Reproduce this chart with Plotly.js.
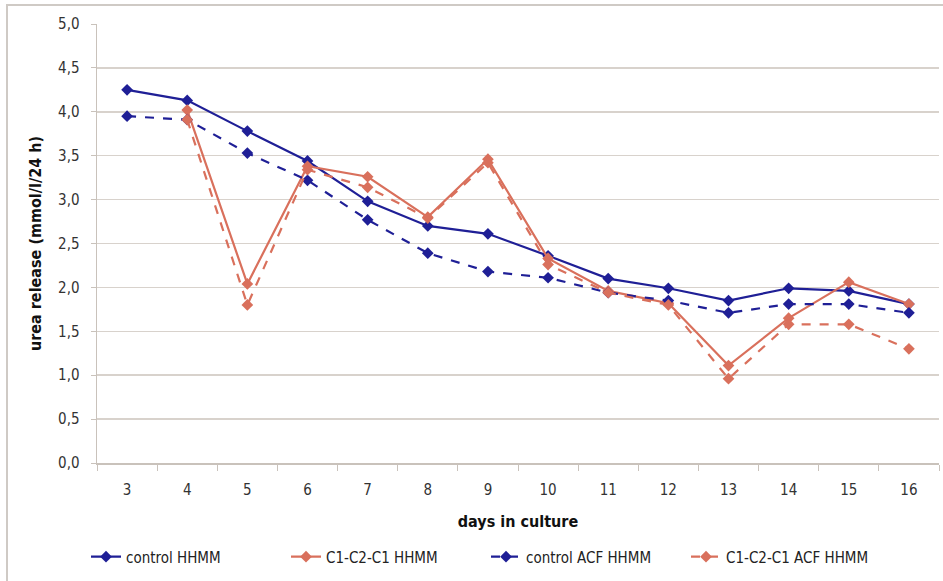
<!DOCTYPE html>
<html>
<head>
<meta charset="utf-8">
<script src="https://cdn.plot.ly/plotly-3.0.1.min.js"></script>
<style>html,body{margin:0;padding:0;background:#fff;} #chart{width:943px;height:581px;}</style>
</head>
<body>
<div id="chart"></div>
<script>
const days = ["3","4","5","6","7","8","9","10","11","12","13","14","15","16"];
const controlHHMM = [4.25, 4.13, 3.78, 3.44, 2.98, 2.70, 2.61, 2.36, 2.10, 1.99, 1.85, 1.99, 1.96, 1.81];
const c1c2c1HHMM = [null, 4.02, 2.04, 3.38, 3.26, 2.80, 3.46, 2.33, 1.96, 1.82, 1.11, 1.65, 2.06, 1.81];
const controlACF = [3.95, 3.91, 3.53, 3.22, 2.77, 2.39, 2.18, 2.11, 1.94, 1.85, 1.71, 1.81, 1.81, 1.71];
const c1c2c1ACF = [null, 3.91, 1.80, 3.34, 3.14, 2.79, 3.42, 2.26, 1.94, 1.80, 0.96, 1.58, 1.58, 1.30];
const seriesNames = ["control HHMM", "C1-C2-C1 HHMM", "control ACF HHMM", "C1-C2-C1 ACF HHMM"];
const yTickVals = [0,0.5,1,1.5,2,2.5,3,3.5,4,4.5,5];
const yTickText = ["0,0","0,5","1,0","1,5","2,0","2,5","3,0","3,5","4,0","4,5","5,0"];

const blue = "#1f1f96";
const orange = "#d9705c";
function tr(y, name, color, dash) {
  return {
    x: days, y: y, name: name, type: "scatter", mode: "lines+markers",
    line: {color: color, width: 2.2, dash: dash},
    marker: {symbol: "diamond", size: 9, color: color},
    connectgaps: false
  };
}
const data = [
  tr(controlHHMM, seriesNames[0], blue, "solid"),
  tr(c1c2c1HHMM, seriesNames[1], orange, "solid"),
  tr(controlACF, seriesNames[2], blue, "dash"),
  tr(c1c2c1ACF, seriesNames[3], orange, "dash")
];
const fam = "DejaVu Sans Condensed, DejaVu Sans, sans-serif";
const tickFont = {family: fam, size: 15, color: "#333"};
const layout = {
  width: 943, height: 581,
  margin: {l: 97, r: 4, t: 24, b: 118, autoexpand: false},
  paper_bgcolor: "#fff", plot_bgcolor: "#fff",
  showlegend: true,
  legend: {orientation: "h", x: 0.462, xanchor: "center", y: -0.214, yanchor: "middle",
           font: {family: fam, size: 15, color: "#222"},
           itemwidth: 30, tracegroupgap: 0, entrywidth: 155, entrywidthmode: "pixels"},
  xaxis: {
    type: "category", categoryorder: "array", categoryarray: days,
    range: [-0.5, 13.5],
    showgrid: false, zeroline: false,
    showline: true, linecolor: "#c9c2bb", linewidth: 1.5,
    ticks: "outside", tickson: "boundaries", ticklen: 6, tickcolor: "#c9c2bb",
    ticklabelstandoff: 12,
    tickfont: tickFont,
    title: {text: "<b>days in culture</b>", font: {family: fam, size: 16, color: "#111"}, standoff: 18}
  },
  yaxis: {
    range: [0, 5], tickvals: yTickVals, ticktext: yTickText,
    showgrid: true, gridcolor: "#d8d2cc", gridwidth: 1.5,
    zeroline: false,
    showline: true, linecolor: "#c9c2bb", linewidth: 1.5,
    ticks: "outside", ticklen: 5, tickcolor: "#c9c2bb",
    ticklabelstandoff: 8,
    tickfont: tickFont,
    title: {text: "<b>urea release (mmol/l/24 h)</b>", font: {family: fam, size: 16, color: "#111"}, standoff: 12}
  },
  shapes: [{
    type: "rect", xref: "paper", yref: "paper",
    x0: -90/842, x1: 1.2, y0: -0.5, y1: 1 + 19/439,
    line: {color: "#cfcac5", width: 2}, fillcolor: "rgba(0,0,0,0)", layer: "below"
  }]
};
Plotly.newPlot("chart", data, layout, {displayModeBar: false, staticPlot: true});
</script>
</body>
</html>
